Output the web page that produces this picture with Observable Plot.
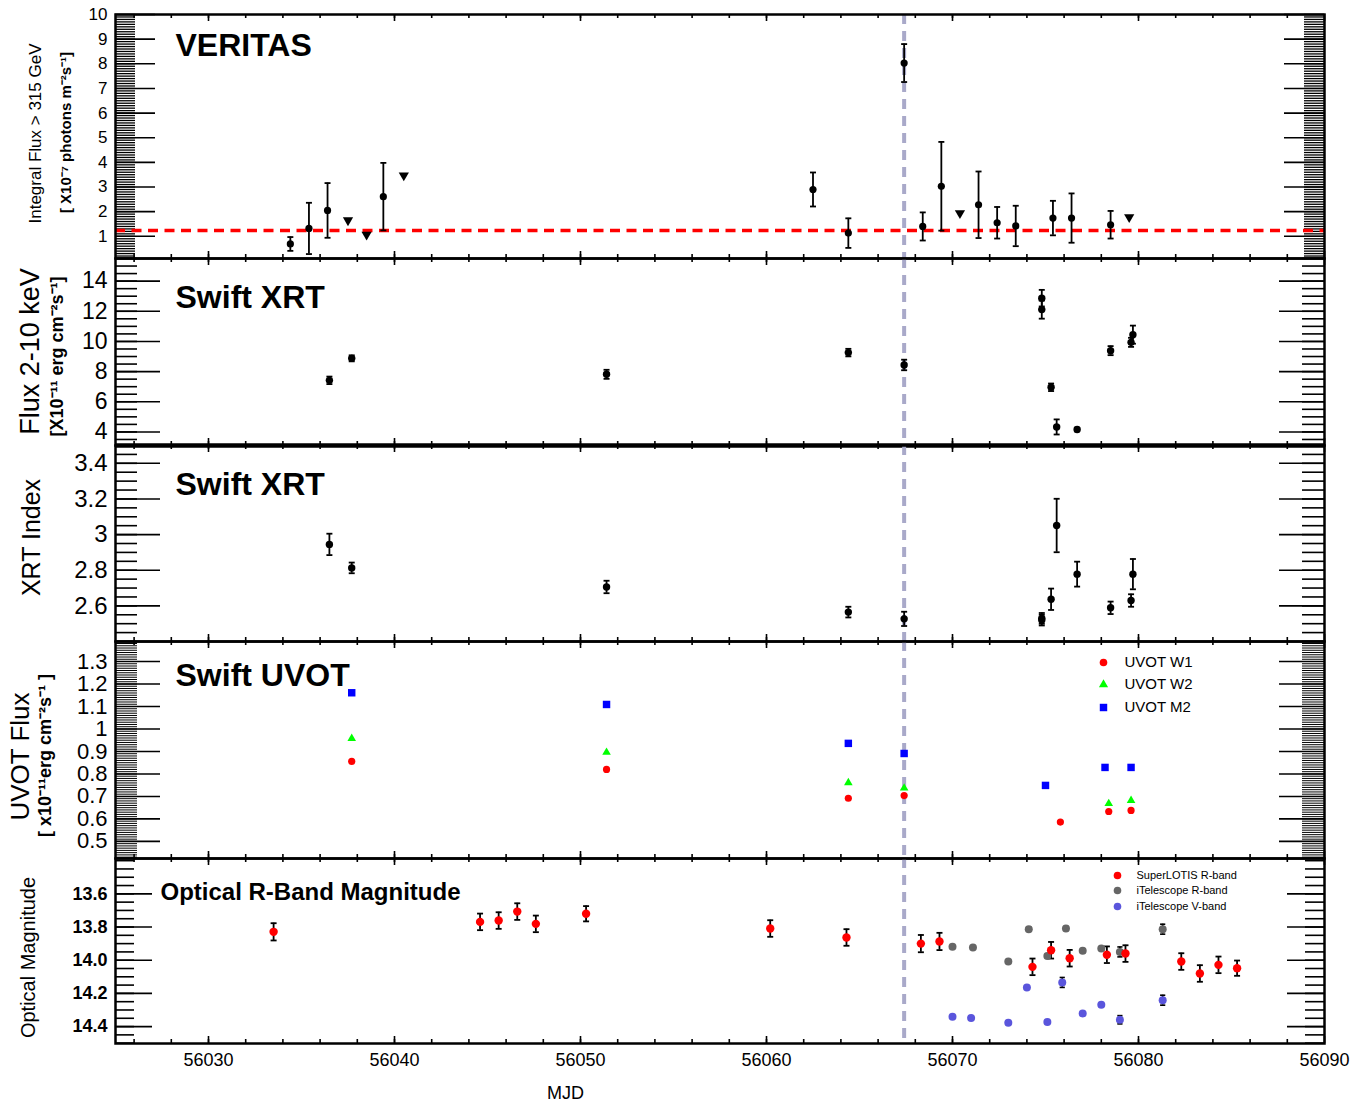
<!DOCTYPE html>
<html><head><meta charset="utf-8">
<script src="https://cdn.jsdelivr.net/npm/d3@7"></script>
<script src="https://cdn.jsdelivr.net/npm/@observablehq/plot@0.6"></script>
<style>
body{margin:0;background:#fff;}
#chart{position:relative;width:1366px;height:1104px;}
#chart svg{position:absolute;left:0;}
</style></head><body><div id="chart"></div>
<script>
// ---------------- DATA ----------------
const xDomain = [56025, 56090];
const xMajor = [56030, 56040, 56050, 56060, 56070, 56080, 56090];
const flareMJD = 56067.4;

// VERITAS integral flux > 315 GeV (x1e-7 photons m^-2 s^-1)
const vtsMJD  = [56034.4, 56035.4, 56036.4, 56039.4, 56062.5, 56064.4, 56067.4, 56068.4, 56069.4, 56071.4, 56072.4, 56073.4, 56075.4, 56076.4, 56078.5];
const vtsFlux = [0.69, 1.32, 2.05, 2.61, 2.90, 1.13, 8.03, 1.40, 3.03, 2.28, 1.55, 1.42, 1.74, 1.74, 1.47];
const vtsErr  = [0.28, 1.04, 1.11, 1.37, 0.69, 0.60, 0.77, 0.57, 1.80, 1.35, 0.64, 0.82, 0.70, 1.00, 0.56];
const vtsUlMJD = [56037.5, 56038.5, 56040.5, 56070.4, 56079.5];
const vtsUl    = [1.65, 1.07, 3.47, 1.94, 1.78];
const vtsBaseline = 1.24;
const vtsTicks = [1, 2, 3, 4, 5, 6, 7, 8, 9, 10];

// Swift XRT flux 2-10 keV (x1e-11 erg cm^-2 s^-1)
const xrtMJD  = [56036.5, 56037.7, 56051.4, 56064.4, 56067.4, 56074.8, 56074.8, 56075.3, 56075.6, 56076.7, 56078.5, 56079.6, 56079.7];
const xrtFlux = [7.42, 8.88, 7.82, 9.26, 8.44, 12.87, 12.11, 6.96, 4.33, 4.16, 9.39, 9.94, 10.45];
const xrtFluxErr = [0.25, 0.20, 0.30, 0.25, 0.35, 0.55, 0.60, 0.25, 0.50, 0.12, 0.30, 0.30, 0.60];
const xrtFluxTicks = [4, 6, 8, 10, 12, 14];

// Swift XRT photon index
const xrtIndex = [2.945, 2.813, 2.706, 2.565, 2.527, 2.530, 2.520, 2.637, 3.051, 2.778, 2.589, 2.630, 2.778];
const xrtIndexErr = [0.060, 0.030, 0.035, 0.030, 0.040, 0.030, 0.030, 0.060, 0.150, 0.070, 0.035, 0.035, 0.085];
const xrtIndexTicks = [2.6, 2.8, 3, 3.2, 3.4];

// Swift UVOT flux (x1e-11 erg cm^-2 s^-1)
const w1MJD = [56037.7, 56051.4, 56064.4, 56067.4, 56075.8, 56078.4, 56079.6];
const w1Flux = [0.856, 0.820, 0.692, 0.704, 0.586, 0.633, 0.638];
const w2MJD = [56037.7, 56051.4, 56064.4, 56067.4, 56078.4, 56079.6];
const w2Flux = [0.958, 0.896, 0.761, 0.737, 0.668, 0.682];
const m2MJD = [56037.7, 56051.4, 56064.4, 56067.4, 56075.0, 56078.2, 56079.6];
const m2Flux = [1.161, 1.109, 0.936, 0.891, 0.749, 0.829, 0.829];
const uvotTicks = [0.5, 0.6, 0.7, 0.8, 0.9, 1, 1.1, 1.2, 1.3];
const uvotNames = ["UVOT W1", "UVOT W2", "UVOT M2"];

// Optical magnitudes
const slMJD = [56033.5, 56044.6, 56045.6, 56046.6, 56047.6, 56050.3, 56060.2, 56064.3, 56068.3, 56069.3, 56074.3, 56075.3, 56076.3, 56078.3, 56079.3, 56082.3, 56083.3, 56084.3, 56085.3];
const slMag = [13.829, 13.769, 13.761, 13.707, 13.781, 13.720, 13.809, 13.863, 13.900, 13.887, 14.040, 13.940, 13.988, 13.967, 13.960, 14.008, 14.080, 14.028, 14.048];
const slErr = [0.052, 0.050, 0.050, 0.050, 0.050, 0.046, 0.050, 0.050, 0.052, 0.052, 0.050, 0.050, 0.050, 0.050, 0.050, 0.050, 0.050, 0.050, 0.046];
const itRMJD = [56070.0, 56071.1, 56073.0, 56074.1, 56075.1, 56076.1, 56077.0, 56078.0, 56079.0, 56081.3];
const itRMag = [13.919, 13.923, 14.008, 13.813, 13.974, 13.809, 13.943, 13.930, 13.950, 13.813];
const itRErr = [0.010, 0.010, 0.010, 0.012, 0.012, 0.012, 0.012, 0.010, 0.030, 0.030];
const itVMJD = [56070.0, 56071.0, 56073.0, 56074.0, 56075.1, 56075.9, 56077.0, 56078.0, 56079.0, 56081.3];
const itVMag = [14.341, 14.349, 14.377, 14.164, 14.373, 14.134, 14.321, 14.269, 14.359, 14.241];
const itVErr = [0.010, 0.010, 0.010, 0.010, 0.010, 0.030, 0.010, 0.010, 0.025, 0.030];
const optTicks = [13.6, 13.8, 14.0, 14.2, 14.4];
const optNames = ["SuperLOTIS R-band", "iTelescope R-band", "iTelescope V-band"];

// ---------------- LAYOUT / STYLE ----------------
const W = 1366, ML = 115, MR = 42, FW = W - ML - MR;
const FONT = '"Liberation Sans", Arial, Helvetica, sans-serif';
const flareColor = "#a9a9c9";
const xMinor = d3.range(56026, 56090, 2);

const rows = (xs, ys, es) => xs.map((x, i) => ({x, y: ys[i], e: es ? es[i] : 0}));
const capSymbol = {draw(ctx, size) { const r = Math.sqrt(size / Math.PI); ctx.moveTo(-r, 0); ctx.lineTo(r, 0); }};

function errMarks(data, sw = 1.8, capR = 3) {
  return [
    Plot.ruleX(data, {x: "x", y1: d => d.y - d.e, y2: d => d.y + d.e, stroke: "black", strokeWidth: sw}),
    Plot.dot(data, {x: "x", y: d => d.y + d.e, symbol: capSymbol, r: capR, stroke: "black", strokeWidth: sw, fill: "none"}),
    Plot.dot(data, {x: "x", y: d => d.y - d.e, symbol: capSymbol, r: capR, stroke: "black", strokeWidth: sw, fill: "none"})
  ];
}

function yLabel(text, cx, cy, top, bottom, size, weight = "normal") {
  const mid = (top + bottom) / 2;
  return Plot.text([text], {text: d => d, frameAnchor: "left", rotate: -90, textAnchor: "middle", lineAnchor: "middle",
    dx: cx - ML, dy: cy - mid, fontSize: size, fontWeight: weight, fill: "black"});
}
function title(text, left, baseline, top, size) {
  return Plot.text([text], {text: d => d, frameAnchor: "top-left", textAnchor: "start", lineAnchor: "bottom",
    dx: left - ML, dy: baseline - top, fontSize: size, fontWeight: "bold", fill: "black"});
}
function legendEntry(name, top, mx, tx, cy, size, dotOpts) {
  return [
    Plot.dot([name], {frameAnchor: "top-left", dx: mx - ML, dy: cy - top, ...dotOpts}),
    Plot.text([name], {text: d => d, frameAnchor: "top-left", dx: tx - ML, dy: cy - top, textAnchor: "start", lineAnchor: "middle", fontSize: size, fill: "black"})
  ];
}

const chart = document.getElementById("chart");

function panel({top, bottom, domain, reverse = false, majors, minors, majorLen, minorLen, tickFont, tickWeight = "normal", tickFormat, marks, last = false, minorWidth = 1.2}) {
  const H = bottom - top;
  const mt = 3, mb = last ? 1104 - bottom : 3;
  const tk = {stroke: "black", strokeWidth: 1.6};
  const tm = {stroke: "black", strokeWidth: minorWidth};
  const all = [
    Plot.tickY(minors, {y: d => d, insetRight: FW - minorLen, ...tm}),
    Plot.tickY(majors, {y: d => d, insetRight: FW - majorLen, ...tk}),
    Plot.tickY(minors, {y: d => d, insetLeft: FW - minorLen, ...tm}),
    Plot.tickY(majors, {y: d => d, insetLeft: FW - majorLen, ...tk}),
    Plot.tickX(xMinor, {x: d => d, insetTop: H - 4, ...tk}),
    Plot.tickX(xMajor, {x: d => d, insetTop: H - 7, ...tk}),
    Plot.tickX(xMinor, {x: d => d, insetBottom: H - 4, ...tk}),
    Plot.tickX(xMajor, {x: d => d, insetBottom: H - 7, ...tk}),
    Plot.axisY({ticks: majors, tickSize: 0, tickPadding: 8, fontSize: tickFont, fontWeight: tickWeight, tickFormat, label: null, fill: "black"}),
    ...(last ? [Plot.axisX({ticks: xMajor, tickSize: 0, tickPadding: 10, fontSize: 18, tickFormat: d => String(d), label: null, fill: "black"}),
                Plot.text(["MJD"], {text: d => d, frameAnchor: "bottom-left", dx: 565 - ML, dy: 50, textAnchor: "middle", lineAnchor: "middle", fontSize: 18, fill: "black"})] : []),
    Plot.ruleX([flareMJD], {x: d => d, stroke: flareColor, strokeWidth: 4, strokeDasharray: "10,7"}),
    ...marks,
    Plot.frame({stroke: "black", strokeWidth: 2.5})
  ];
  const svg = Plot.plot({
    width: W, height: H + mt + mb,
    marginLeft: ML, marginRight: MR, marginTop: mt, marginBottom: mb,
    style: `font-family:${FONT};color:black;background:transparent;overflow:visible;`,
    x: {domain: xDomain, axis: last ? undefined : null},
    y: {domain, reverse},
    marks: all
  });
  svg.style.top = (top - mt) + "px";
  chart.appendChild(svg);
}

// Panel 1: VERITAS
{
  const T = 14, B = 258;
  panel({top: T, bottom: B, domain: [0.1, 10], majors: vtsTicks, minors: d3.range(1, 101).map(i => i / 10),
    majorLen: 40, minorLen: 20, tickFont: 17, tickFormat: d => String(d), minorWidth: 1.3,
    marks: [
      Plot.ruleY([vtsBaseline], {y: d => d, stroke: "#ff0000", strokeWidth: 3.5, strokeDasharray: "10,6.5"}),
      ...errMarks(rows(vtsMJD, vtsFlux, vtsErr)),
      Plot.dot(rows(vtsMJD, vtsFlux), {x: "x", y: "y", r: 3.6, fill: "black"}),
      Plot.dot(rows(vtsUlMJD, vtsUl), {x: "x", y: "y", symbol: "triangle", rotate: 180, r: 3.8, fill: "black"}),
      title("VERITAS", 175, 55, T, 32),
      yLabel("Integral Flux > 315 GeV", 35, 133, T, B, 17),
      yLabel("[ X10⁻⁷ photons m⁻²s⁻¹]", 66, 132, T, B, 15, "bold")
    ]});
}
// Panel 2: XRT flux
{
  const T = 258, B = 445;
  panel({top: T, bottom: B, domain: [3.1, 15.5], majors: xrtFluxTicks, minors: d3.range(7, 32).map(i => i / 2),
    majorLen: 45, minorLen: 22, tickFont: 23, tickFormat: d => String(d), minorWidth: 1.6,
    marks: [
      ...errMarks(rows(xrtMJD, xrtFlux, xrtFluxErr)),
      Plot.dot(rows(xrtMJD, xrtFlux), {x: "x", y: "y", r: 3.7, fill: "black"}),
      title("Swift XRT", 175, 307, T, 32),
      yLabel("Flux 2-10 keV", 30, 351, T, B, 27),
      yLabel("[X10⁻¹¹ erg cm⁻²s⁻¹]", 57, 356, T, B, 18, "bold"),
      Plot.ruleY([3.1], {y: d => d, stroke: "black", strokeWidth: 4.5})
    ]});
}
// Panel 3: XRT index
{
  const T = 445, B = 641;
  panel({top: T, bottom: B, domain: [2.4, 3.5], majors: xrtIndexTicks, minors: d3.range(48, 71).map(i => i / 20),
    majorLen: 45, minorLen: 22, tickFont: 24, tickFormat: d => String(d), minorWidth: 1.6,
    marks: [
      ...errMarks(rows(xrtMJD, xrtIndex, xrtIndexErr)),
      Plot.dot(rows(xrtMJD, xrtIndex), {x: "x", y: "y", r: 3.7, fill: "black"}),
      title("Swift XRT", 175, 494, T, 32),
      yLabel("XRT Index", 31, 537, T, B, 25)
    ]});
}
// Panel 4: UVOT
{
  const T = 641, B = 858;
  panel({top: T, bottom: B, domain: [0.424, 1.389], majors: uvotTicks, minors: d3.range(43, 139).map(i => i / 100),
    majorLen: 45, minorLen: 22, tickFont: 22, tickFormat: d => String(d), minorWidth: 1,
    marks: [
      Plot.dot(rows(m2MJD, m2Flux), {x: "x", y: "y", symbol: "square", r: 4.2, fill: "#0000ff"}),
      Plot.dot(rows(w2MJD, w2Flux), {x: "x", y: "y", symbol: "triangle", r: 3.2, fill: "#00ff00"}),
      Plot.dot(rows(w1MJD, w1Flux), {x: "x", y: "y", r: 3.6, fill: "#ff0000"}),
      ...legendEntry(uvotNames[0], T, 1103, 1124, 662, 15, {r: 3.8, fill: "#ff0000"}),
      ...legendEntry(uvotNames[1], T, 1103, 1124, 684, 15, {symbol: "triangle", r: 3.4, fill: "#00ff00"}),
      ...legendEntry(uvotNames[2], T, 1103, 1124, 707, 15, {symbol: "square", r: 4.2, fill: "#0000ff"}),
      title("Swift UVOT", 175, 685, T, 32),
      yLabel("UVOT Flux", 20, 756, T, B, 26),
      yLabel("[ x10⁻¹¹erg cm⁻²s⁻¹ ]", 45, 755, T, B, 18, "bold")
    ]});
}
// Panel 5: Optical
{
  const T = 858, B = 1043;
  panel({top: T, bottom: B, domain: [13.387, 14.502], reverse: true, majors: optTicks, minors: d3.range(268, 291).map(i => i / 20),
    majorLen: 37, minorLen: 19, tickFont: 18, tickWeight: "bold", tickFormat: d => d.toFixed(1), last: true, minorWidth: 1.6,
    marks: [
      ...errMarks(rows(itRMJD, itRMag, itRErr), 1.6, 2.6),
      ...errMarks(rows(itVMJD, itVMag, itVErr), 1.6, 2.6),
      ...errMarks(rows(slMJD, slMag, slErr)),
      Plot.dot(rows(itRMJD, itRMag), {x: "x", y: "y", r: 4, fill: "#666666"}),
      Plot.dot(rows(itVMJD, itVMag), {x: "x", y: "y", r: 4, fill: "#5a55dc"}),
      Plot.dot(rows(slMJD, slMag), {x: "x", y: "y", r: 4.2, fill: "#ff0000"}),
      ...legendEntry(optNames[0], T, 1117, 1136, 875, 11, {r: 3.8, fill: "#ff0000"}),
      ...legendEntry(optNames[1], T, 1117, 1136, 890, 11, {r: 3.8, fill: "#666666"}),
      ...legendEntry(optNames[2], T, 1117, 1136, 906, 11, {r: 3.8, fill: "#5a55dc"}),
      title("Optical R-Band Magnitude", 160, 899, T, 24),
      yLabel("Optical Magnitude", 28, 957, T, B, 20)
    ]});
}
</script>
</body></html>
